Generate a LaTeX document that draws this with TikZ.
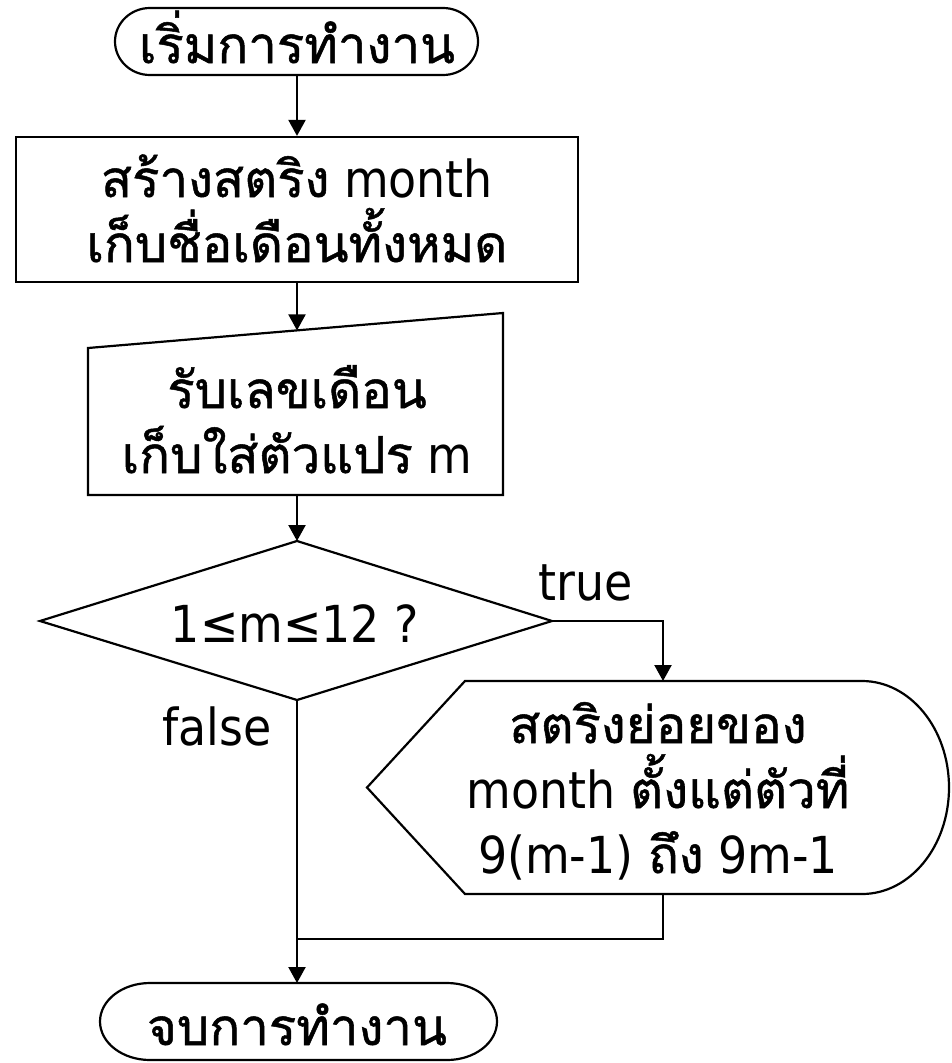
\documentclass[tikz,border=0pt]{standalone}
\usepackage{fontspec}
\setmainfont{DejaVu Sans Condensed}
\newfontfamily\thai[Script=Thai,FakeBold=1]{Loma}
\usetikzlibrary{arrows.meta}
\newcommand\ls{\rule[-15pt]{0pt}{85pt}}
\newcommand\lsend{\rule[-12pt]{0pt}{82pt}}
\setlength{\lineskiplimit}{-100pt}
\begin{document}
\begin{tikzpicture}[x=1pt,y=1pt,line width=2.2pt,
  >={Triangle[length=16pt,width=17pt]},
  txt/.style={inner sep=0pt,align=center,font=\fontsize{51}{65}\selectfont},
  flow/.style={->},
  outline/.style={draw,line width=2.2pt}]
\useasboundingbox (0,0) rectangle (951,-1063);
% start terminator
\draw[outline] (150,-8) -- (443,-8) arc[start angle=90,end angle=-90,x radius=35,y radius=33.5]
  -- (150,-75) arc[start angle=270,end angle=90,x radius=35,y radius=33.5] -- cycle;
\coordinate (start-s) at (297,-75);
\node[txt] (startT) at (297,-35.5) {\ls\thai เริ่มการทำงาน};
% process
\node[outline,minimum width=562pt,minimum height=145pt,inner sep=0pt] (rect) at (297,-209.5) {};
\node[txt] (rectT) at (297,-202) {\ls{\thai สร้างสตริง} month\\\ls\thai เก็บชื่อเดือนทั้งหมด};
% manual input
\draw[outline] (88,-348) -- (503,-313) -- (503,-495) -- (88,-495) -- cycle;
\coordinate (in-n) at (297,-330.4);
\coordinate (in-s) at (297,-495);
\node[txt] (inT) at (297,-413) {\ls\thai รับเลขเดือน\\\ls{\thai เก็บใส่ตัวแปร} m};
% decision
\draw[outline] (297,-541) -- (552,-621) -- (297,-700) -- (40,-621) -- cycle;
\coordinate (d-n) at (297,-541);
\coordinate (d-e) at (552,-621);
\coordinate (d-s) at (297,-700);
\node[txt] (dT) at (295,-614.5) {\ls 1≤m≤12 ?};
% display
\draw[outline] (465,-681) -- (862,-681) arc[start angle=90,end angle=-90,x radius=87,y radius=106.5]
  -- (465,-894) -- (367,-787.5) -- cycle;
\coordinate (disp-n) at (663,-681);
\coordinate (disp-s) at (663,-894);
\node[txt] (dispT) at (658,-780.5) {\ls\thai สตริงย่อยของ\\\ls month {\thai ตั้งแต่ตัวที่}\\\ls 9(m-1) {\thai ถึง} 9m-1};
% end terminator
\draw[outline] (150,-983) -- (447,-983) arc[start angle=90,end angle=-90,x radius=50,y radius=38.5]
  -- (150,-1060) arc[start angle=270,end angle=90,x radius=50,y radius=38.5] -- cycle;
\coordinate (end-n) at (297,-983);
\node[txt] (endT) at (297,-1016) {\lsend\thai จบการทำงาน};
\coordinate (join) at (297,-939);
% labels
\node[txt] (trueL) at (586,-572.5) {\ls true};
\node[txt] (falseL) at (217,-717.5) {\ls false};
% connectors
\draw[flow] (start-s) -- (rect.north);
\draw[flow] (rect.south) -- (in-n);
\draw[flow] (in-s) -- (d-n);
\draw[flow] (d-e) -| (disp-n);
\draw[flow] (d-s) -- (end-n);
\draw (disp-s) |- (join);
\end{tikzpicture}
\end{document}
